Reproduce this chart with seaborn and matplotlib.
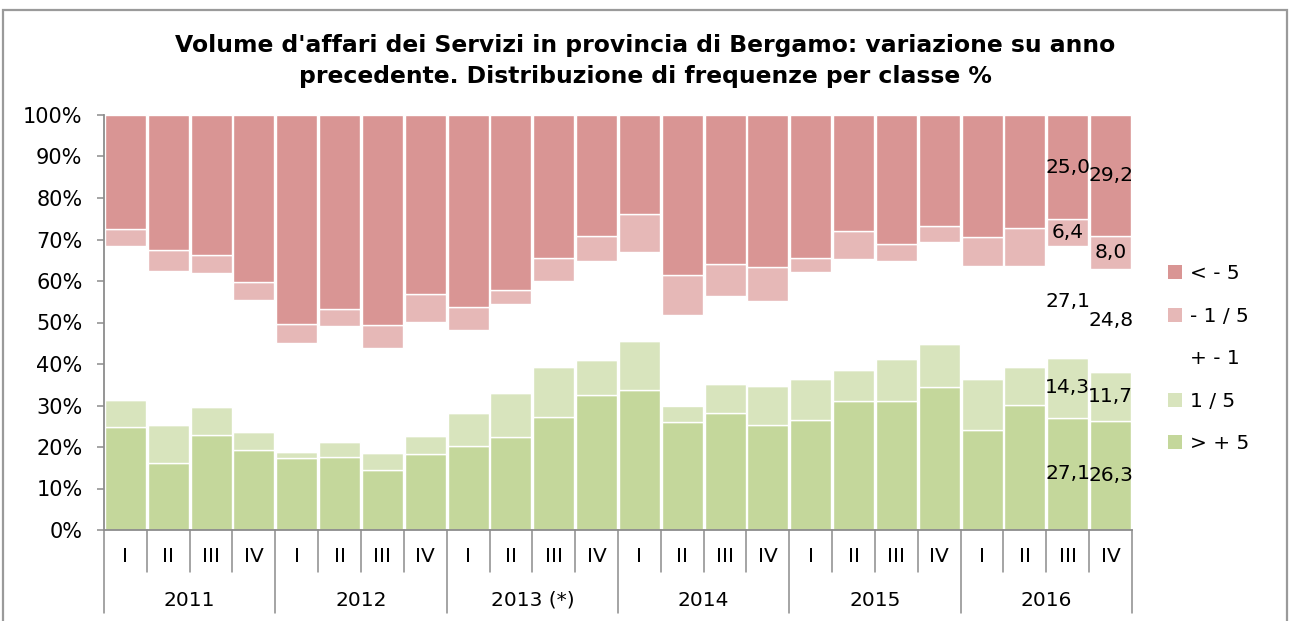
import matplotlib
matplotlib.use("Agg")
import matplotlib.pyplot as plt
from matplotlib.patches import Patch, Rectangle
from matplotlib.ticker import FuncFormatter
import pandas as pd
import seaborn as sns

# Quarters and years on the two-level category axis
years = ["2011", "2012", "2013 (*)", "2014", "2015", "2016"]
quarters = ["I", "II", "III", "IV"]

# Frequency classes (top of the stack first)
classes = ["< - 5", "- 1 / 5", "+ - 1", "1 / 5", "> + 5"]

# Share of firms per class, % (one value per quarter, 2011 I .. 2016 IV)
lt_m5 = [27.5, 32.6, 33.8, 40.3, 50.4, 46.8, 50.7, 43.1, 46.3, 42.2, 34.5, 29.2,
         23.9, 38.5, 35.9, 36.6, 34.4, 27.9, 31.1, 26.7, 29.5, 27.2, 25.0, 29.2]
m1_5 = [4.1, 5.1, 4.2, 4.2, 4.6, 4.0, 5.4, 6.9, 5.6, 3.4, 5.6, 6.0,
        9.2, 9.6, 7.6, 8.1, 3.4, 6.9, 4.2, 4.0, 6.9, 9.2, 6.4, 8.0]
pm1 = [37.0, 37.0, 32.3, 32.0, 26.1, 27.9, 25.4, 27.3, 19.8, 21.3, 20.6, 23.9,
       21.3, 21.9, 21.4, 20.7, 25.9, 26.6, 23.5, 24.6, 27.3, 24.4, 27.1, 24.8]
p1_5 = [6.7, 9.2, 6.9, 4.2, 1.6, 3.8, 4.1, 4.4, 8.1, 10.7, 12.1, 8.4,
        11.9, 3.9, 7.0, 9.4, 9.8, 7.5, 10.2, 10.3, 12.3, 9.0, 14.3, 11.7]
gt_p5 = [24.7, 16.1, 22.8, 19.3, 17.3, 17.5, 14.4, 18.3, 20.2, 22.4, 27.2, 32.5,
         33.7, 26.1, 28.1, 25.2, 26.5, 31.1, 31.0, 34.4, 24.0, 30.2, 27.1, 26.3]

series = [lt_m5, m1_5, pm1, p1_5, gt_p5]
palette = {"< - 5": "#D99594", "- 1 / 5": "#E6B8B7", "+ - 1": "#FFFFFF",
           "1 / 5": "#D8E4BD", "> + 5": "#C4D79B"}

n = len(years) * len(quarters)
rows = []
for cls, vals in zip(classes, series):
    for i, v in enumerate(vals):
        rows.append({"pos": i, "classe": cls, "val": v})
df = pd.DataFrame(rows)

sns.set_style("white")
plt.rcParams["font.family"] = ["DejaVu Sans"]
plt.rcParams["text.color"] = "black"
plt.rcParams["axes.labelcolor"] = "black"
plt.rcParams["ytick.color"] = "black"

fig = plt.figure(figsize=(12.9, 6.21), dpi=100)
ax = fig.add_axes([104 / 1290, 91 / 621, 1028 / 1290, 415 / 621])

# Stacked bars: the last hue level ends up at the bottom of the stack
sns.histplot(data=df, x="pos", hue="classe", hue_order=classes, weights="val",
             multiple="stack", discrete=True, shrink=0.96, palette=palette,
             edgecolor="white", linewidth=1.0, alpha=1, legend=False, ax=ax)

ax.set_xlim(-0.5, n - 0.5)
ax.set_ylim(0, 100)
ax.set_xlabel("")
ax.set_ylabel("")
ax.set_xticks([])
ax.set_yticks(range(0, 101, 10))
ax.yaxis.set_major_formatter(FuncFormatter(lambda v, p: f"{int(v)}%"))
ax.tick_params(axis="y", left=True, length=5, width=1.1, color="#8c8c8c",
               labelsize=15, pad=10.5, labelcolor="black")
for side in ("top", "right"):
    ax.spines[side].set_visible(False)
for side in ("left", "bottom"):
    ax.spines[side].set_color("#8c8c8c")
    ax.spines[side].set_linewidth(1.3)

# Two-level category axis: quarters above, years below
trans = ax.get_xaxis_transform()
sep_kw = dict(color="#8c8c8c", lw=1.1, transform=trans, clip_on=False)
for b in range(n + 1):
    x = b - 0.5
    if b % 4 == 0:
        ax.plot([x, x], [0, -0.2], **sep_kw)
    else:
        ax.plot([x, x], [0, -0.101], **sep_kw)
for i in range(n):
    ax.text(i, -0.063, quarters[i % 4], transform=trans, ha="center",
            va="center", fontsize=14.5)
for j, y in enumerate(years):
    ax.text(j * 4 + 1.5, -0.169, y, transform=trans, ha="center",
            va="center", fontsize=14.5)

# Value labels on the last two quarters
for i in (n - 2, n - 1):
    base = 0.0
    for cls, vals in zip(classes[::-1], series[::-1]):
        v = vals[i]
        ax.text(i, base + v / 2, f"{v:.1f}".replace(".", ","), ha="center",
                va="center", fontsize=14.5, color="black")
        base += v

# Legend
handles = [Patch(facecolor=palette[c], edgecolor="none") for c in classes]
fig.legend(handles, classes, loc="upper left",
           bbox_to_anchor=(1160 / 1290, 1 - 256 / 621), frameon=False,
           fontsize=14.5, handlelength=0.7, handleheight=0.7,
           handletextpad=0.4, labelspacing=1.17, borderaxespad=0)

fig.text(0.5, 1 - 61 / 621,
         "Volume d'affari dei Servizi in provincia di Bergamo: variazione su anno\n"
         "precedente. Distribuzione di frequenze per classe %",
         ha="center", va="center", fontsize=16.9, fontweight="bold",
         linespacing=1.4, color="black")

# Chart frame
fig.patches.append(Rectangle((3 / 1290, -0.05), 1284 / 1290, 1.05 - 10 / 621,
                             transform=fig.transFigure, fill=False,
                             edgecolor="#9a9a9a", lw=1.6))

fig.savefig("out.png", dpi=100)
